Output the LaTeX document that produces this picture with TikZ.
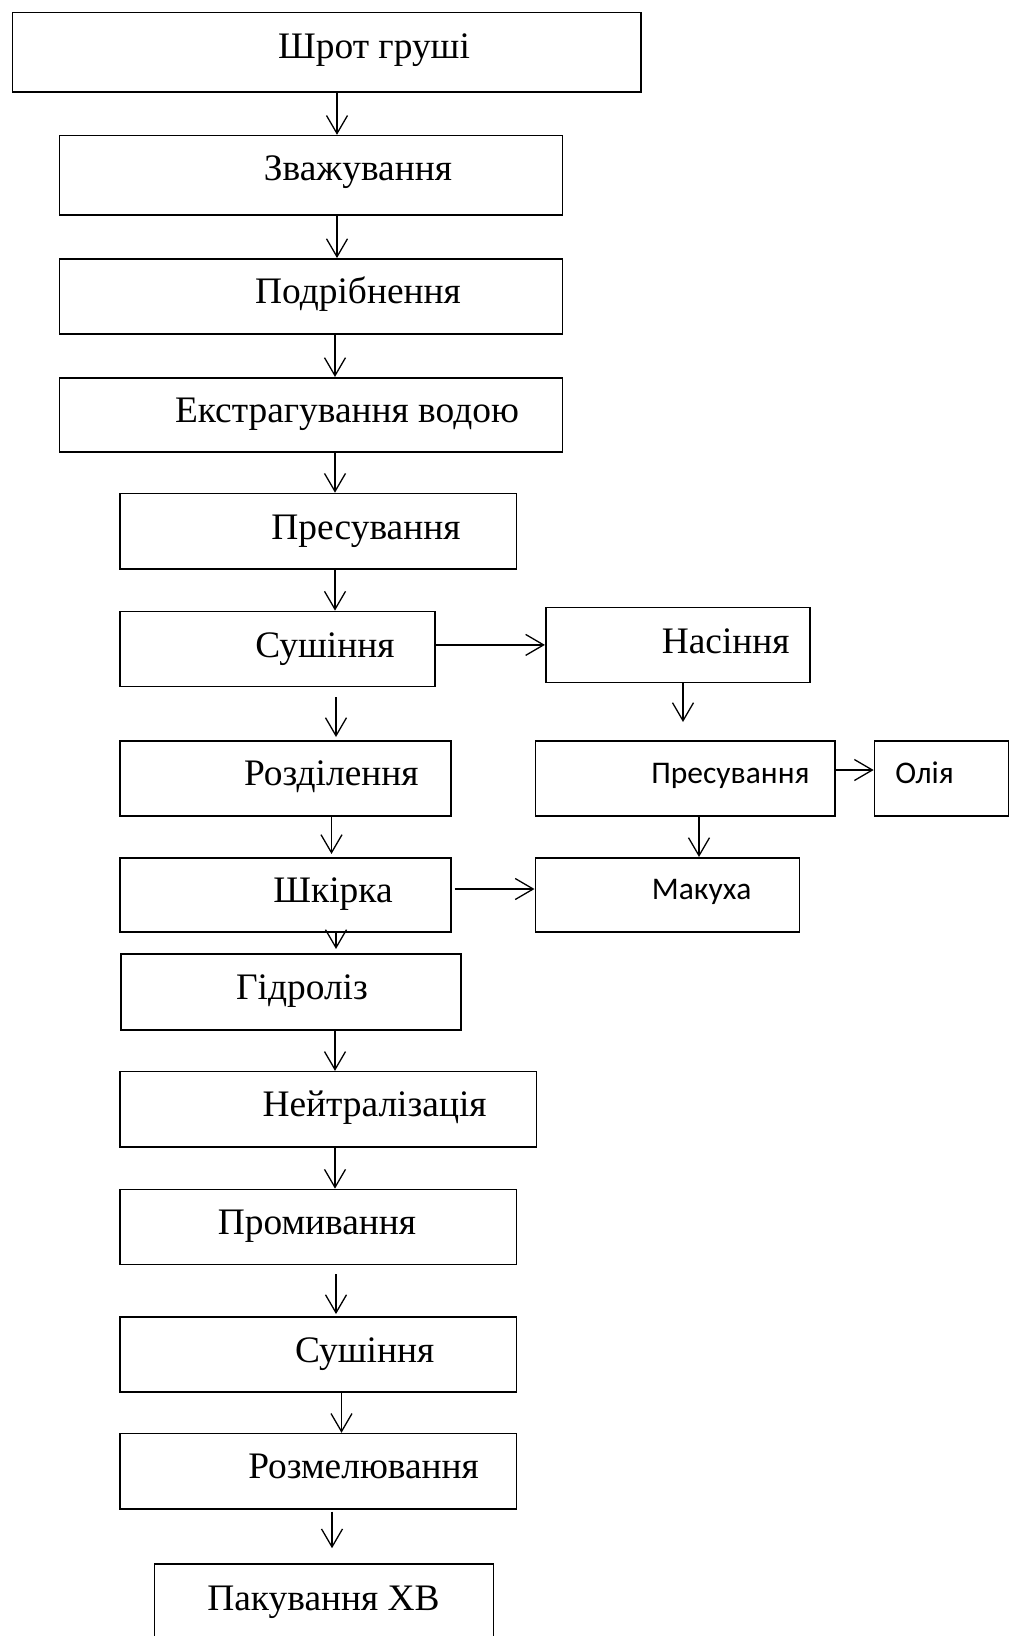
\documentclass[tikz,border=0pt]{standalone}
\usepackage{fontspec}
\setmainfont{Liberation Serif}
\newfontfamily\flowsans{Carlito}
\usetikzlibrary{arrows.meta}
\tikzset{
  flow box/.style={draw, line width=1.6pt, inner sep=0pt},
  flow text/.style={anchor=base, inner sep=0pt, font=\fontsize{37.4}{44}\selectfont},
  flow text sans/.style={anchor=base, inner sep=0pt, font=\flowsans\fontsize{31.5}{37}\selectfont},
  flow edge/.style={-{Straight Barb[length=18pt, width=21pt]}, line width=1.3pt},
}

\begin{document}
\begin{tikzpicture}[x=1pt, y=-1pt]
  \useasboundingbox (0,0) rectangle (1010,1636);
  \fill[white] (0,0) rectangle (1010,1636);
  \clip (0,0) rectangle (1010,1636);
  % main column
  \node[flow box, minimum width=628.2pt, minimum height=79.3pt] (b1) at (326.6,52.15) {};
  \node[flow text] (t1) at (374,58.5) {Шрот груші};
  \node[flow box, minimum width=503pt, minimum height=79.4pt] (b2) at (311,175.3) {};
  \node[flow text] (t2) at (358,180.5) {Зважування};
  \node[flow box, minimum width=503pt, minimum height=75.1pt] (b3) at (311,296.4) {};
  \node[flow text] (t3) at (358,303.5) {Подрібнення};
  \node[flow box, minimum width=503pt, minimum height=74.1pt] (b4) at (311,414.8) {};
  \node[flow text] (t4) at (347,422.5) {Екстрагування водою};
  \node[flow box, minimum width=396.5pt, minimum height=75.2pt] (b5) at (318.25,531.1) {};
  \node[flow text] (t5) at (366,539.5) {Пресування};
  \node[flow box, minimum width=315pt, minimum height=75.2pt] (b6) at (277.5,649) {};
  \node[flow text] (t6) at (325,657.5) {Сушіння};
  \node[flow box, minimum width=330.7pt, minimum height=75.2pt] (b8) at (285.4,778.4) {};
  \node[flow text] (t8) at (331.3,785.5) {Розділення};
  \node[flow box, minimum width=330.7pt, minimum height=74.1pt] (b11) at (285.4,894.8) {};
  \node[flow text] (t11) at (333,902.5) {Шкірка};
  \node[flow box, minimum width=340pt, minimum height=76.1pt] (b13) at (291,991.8) {};
  \node[flow text] (t13) at (302,999.5) {Гідроліз};
  \node[flow box, minimum width=416.3pt, minimum height=75.1pt] (b14) at (328.2,1109.2) {};
  \node[flow text] (t14) at (374.6,1116.5) {Нейтралізація};
  \node[flow box, minimum width=396.5pt, minimum height=75.1pt] (b15) at (318.25,1227) {};
  \node[flow text] (t15) at (317,1234.5) {Промивання};
  \node[flow box, minimum width=396.5pt, minimum height=75.1pt] (b16) at (318.25,1354.4) {};
  \node[flow text] (t16) at (364.7,1362.5) {Сушіння};
  \node[flow box, minimum width=396.5pt, minimum height=75.2pt] (b17) at (318.25,1471.2) {};
  \node[flow text] (t17) at (363.6,1478.5) {Розмелювання};
  \node[flow box, minimum width=339pt, minimum height=80pt] (b18) at (324,1604) {};
  \node[flow text] (t18) at (323.5,1610) {Пакування ХВ};
  % seed branch
  \node[flow box, minimum width=264pt, minimum height=75.1pt] (b7) at (677.7,644.9) {};
  \node[flow text] (t7) at (725.7,653) {Насіння};
  \node[flow box, minimum width=299.4pt, minimum height=75.2pt] (b9) at (685,778.4) {};
  \node[flow text sans] (t9) at (730.4,783) {Пресування};
  \node[flow box, minimum width=134.1pt, minimum height=75.2pt] (b10) at (941.5,778.4) {};
  \node[flow text sans] (t10) at (924.5,783) {Олія};
  \node[flow box, minimum width=264pt, minimum height=74.1pt] (b12) at (667.3,894.8) {};
  \node[flow text sans] (t12) at (701.7,899) {Макуха};
  % arrows
  \draw[flow edge] (337,0 |- b1.south) -- (337,0 |- b2.north);
  \draw[flow edge] (337,0 |- b2.south) -- (337,0 |- b3.north);
  \draw[flow edge] (335,0 |- b3.south) -- (335,0 |- b4.north);
  \draw[flow edge] (335,0 |- b4.south) -- (335,0 |- b5.north);
  \draw[flow edge] (335,0 |- b5.south) -- (335,0 |- b6.north);
  \draw[flow edge] (b6.east |- b7.west) -- (b7.west);
  \draw[flow edge, shorten >=18pt] (683,0 |- b7.south) -- (683,0 |- b9.north);
  \draw[flow edge, shorten <=10pt, shorten >=3pt] (336,0 |- b6.south) -- (336,0 |- b8.north);
  \draw[flow edge] (b9.east |- 0,770) -- (b10.west |- 0,770);
  \draw[flow edge] (699,0 |- b9.south) -- (699,0 |- b12.north);
  \draw[flow edge, shorten >=3pt] (331.5,0 |- b8.south) -- (331.5,0 |- b11.north);
  \draw[flow edge, shorten <=3pt] (b11.east |- 0,889) -- (b12.west |- 0,889);
  \draw[flow edge, shorten >=4pt] (336,0 |- b11.south) -- (336,0 |- b13.north);
  \draw[flow edge] (335,0 |- b13.south) -- (335,0 |- b14.north);
  \draw[flow edge] (335,0 |- b14.south) -- (335,0 |- b15.north);
  \draw[flow edge, shorten <=9pt, shorten >=2pt] (336,0 |- b15.south) -- (336,0 |- b16.north);
  \draw[flow edge] (341.5,0 |- b16.south) -- (341.5,0 |- b17.north);
  \draw[flow edge, shorten <=2pt, shorten >=15pt] (332,0 |- b17.south) -- (332,0 |- b18.north);
\end{tikzpicture}
\end{document}
